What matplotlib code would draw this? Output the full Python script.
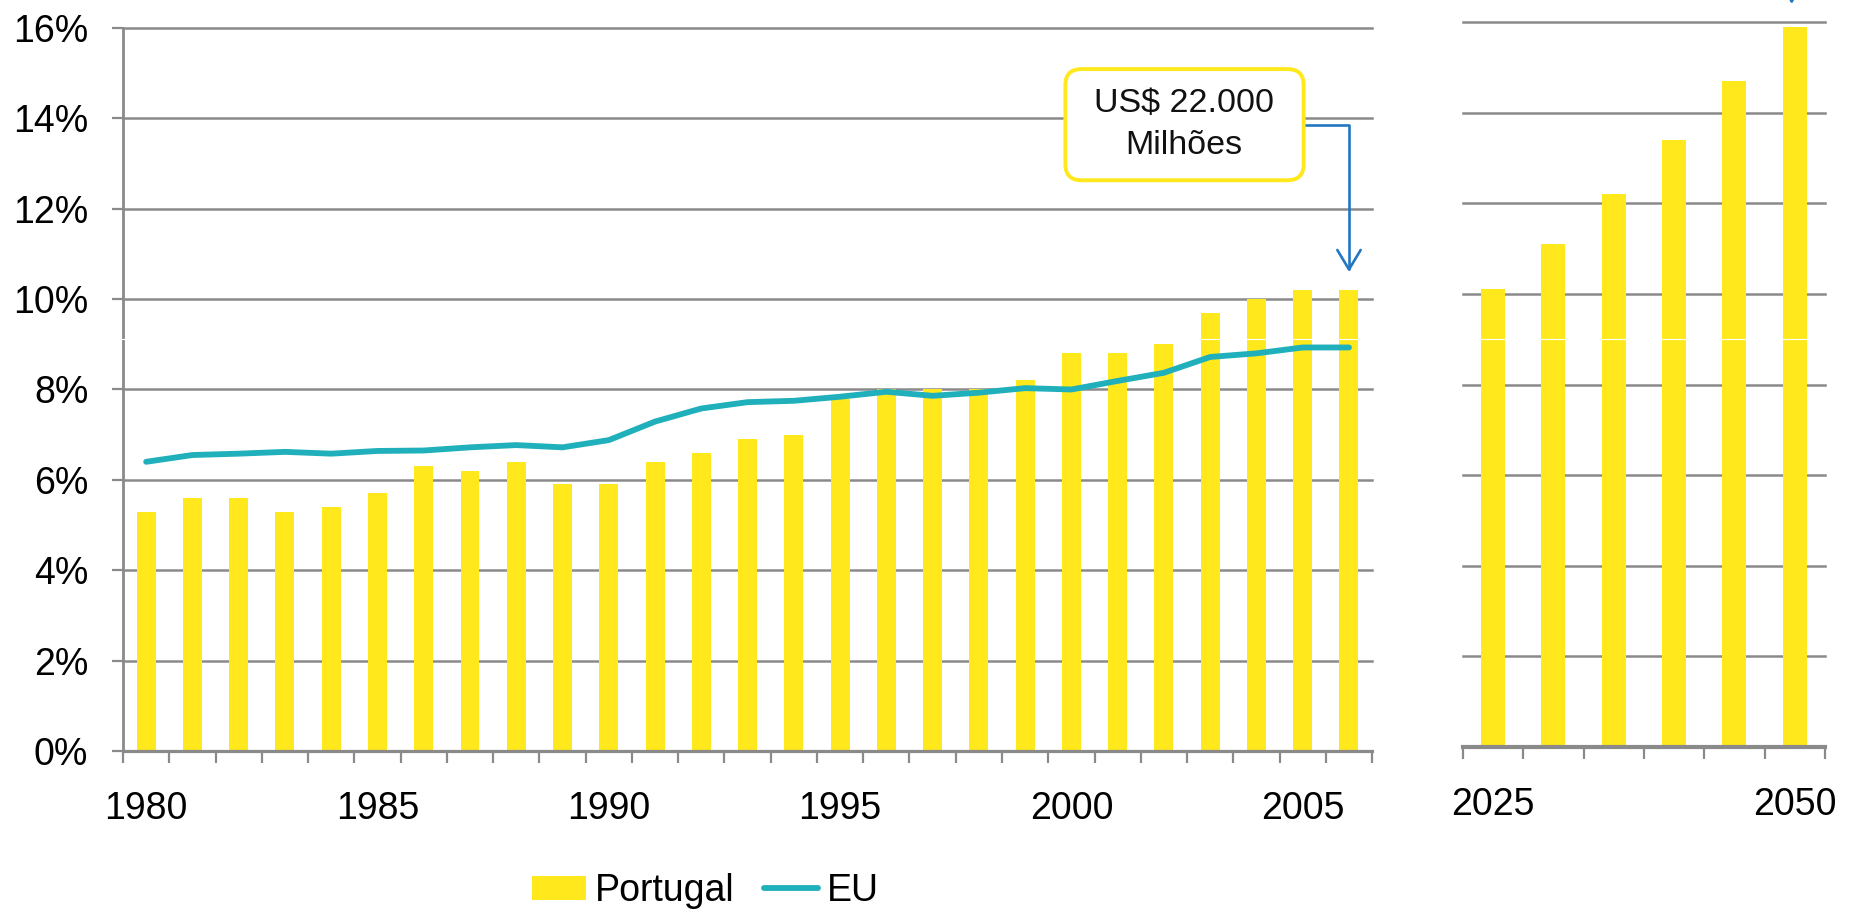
import matplotlib
matplotlib.use("Agg")
import matplotlib.pyplot as plt
from matplotlib.patches import FancyBboxPatch
from matplotlib.lines import Line2D

plt.rcParams['font.family'] = ['Liberation Sans', 'DejaVu Sans']

# historical series
years = list(range(1980, 2007))
portugal = [5.3, 5.6, 5.6, 5.3, 5.4, 5.7, 6.3, 6.2, 6.4, 5.9, 5.9, 6.4, 6.6, 6.9,
            7.0, 7.8, 8.0, 8.0, 8.0, 8.2, 8.8, 8.8, 9.0, 9.7, 10.0, 10.2, 10.2]
eu = [6.4, 6.55, 6.58, 6.62, 6.58, 6.64, 6.65, 6.72, 6.77, 6.72, 6.88, 7.29, 7.58,
      7.72, 7.75, 7.84, 7.95, 7.86, 7.93, 8.03, 8.0, 8.19, 8.37, 8.72, 8.8, 8.93, 8.93]

# projection
proj_years = [2025, 2030, 2035, 2040, 2045, 2050]
proj_values = [10.1, 11.1, 12.2, 13.4, 14.7, 15.9]
proj_labels = {2025: '2025', 2050: '2050'}

yticks = [0, 2, 4, 6, 8, 10, 12, 14, 16]
note = 'US$ 22.000\nMilhões'

YELLOW = '#ffe81c'
TEAL = '#1fb0bb'
BLUE = '#2277c2'
GRAY = '#8a8a8a'
FS = 27

fig = plt.figure(figsize=(18.61, 9.11), dpi=100)
ax = fig.add_axes([0.0661, 0.1756, 0.6712, 0.7937])
ax2 = fig.add_axes([0.7861, 0.18, 0.1945, 0.7958])

for a in (ax, ax2):
    a.set_ylim(0, 16)
    a.set_yticks(yticks)
    a.grid(axis='y', color=GRAY, lw=1.8)
    a.set_axisbelow(True)
    for gl in a.get_ygridlines():
        gl.set_clip_on(False)
    for s in ('top', 'right'):
        a.spines[s].set_visible(False)
    a.tick_params(axis='x', which='major', length=0, labelsize=FS, pad=29)
    a.tick_params(axis='x', which='minor', length=8.6, width=1.6, color=GRAY, direction='out')

# left panel
x = list(range(len(years)))
bars = ax.bar(x, portugal, width=0.41, color=YELLOW, label='Portugal', zorder=2)
line, = ax.plot(x, eu, color=TEAL, lw=4.2, solid_capstyle='round', solid_joinstyle='round',
                label='EU', zorder=3)
ax.set_xlim(-0.5, len(years) - 0.5)
ax.set_xticks([i for i, y in enumerate(years) if y % 5 == 0])
ax.set_xticklabels([str(y) for y in years if y % 5 == 0])
ax.set_xticks([i - 0.5 for i in range(len(years) + 1)], minor=True)
ax.set_yticklabels([f'{v}%' for v in yticks])
ax.tick_params(axis='y', length=8, width=1.6, color=GRAY, labelsize=FS, pad=17)
ax.spines['left'].set_color(GRAY)
ax.spines['left'].set_linewidth(2.0)
ax.spines['bottom'].set_color(GRAY)
ax.spines['bottom'].set_linewidth(2.3)

# callout box + arrow
box = FancyBboxPatch((19.87, 12.63), 5.15, 2.46, boxstyle='round,pad=0,rounding_size=0.35',
                     facecolor='white', edgecolor=YELLOW, lw=2.8, zorder=5)
ax.add_patch(box)
ax.text(22.44, 13.86, note, ha='center', va='center', fontsize=24.5, linespacing=1.45,
        color='#111111', zorder=6)
arrow_style = '->,head_length=0.7,head_width=0.42'
ax.annotate('', xy=(26, 10.6), xytext=(25.02, 13.86),
            arrowprops=dict(arrowstyle=arrow_style, mutation_scale=20,
                            connectionstyle='angle,angleA=0,angleB=90,rad=0',
                            color=BLUE, lw=1.9, shrinkA=0, shrinkB=0),
            annotation_clip=False, zorder=4)

# right panel
x2 = list(range(len(proj_years)))
ax2.bar(x2, proj_values, width=0.4, color=YELLOW, zorder=2)
ax2.set_xlim(-0.5, len(proj_years) - 0.5)
ax2.set_xticks([i for i, y in enumerate(proj_years) if y in proj_labels])
ax2.set_xticklabels([proj_labels[y] for y in proj_years if y in proj_labels])
ax2.set_xticks([i - 0.5 for i in range(len(proj_years) + 1)], minor=True)
ax2.tick_params(axis='y', length=0, labelleft=False)
ax2.spines['left'].set_visible(False)
ax2.spines['bottom'].set_color(GRAY)
ax2.spines['bottom'].set_linewidth(3.0)
ax2.annotate('', xy=(4.95, 16.4), xytext=(4.95, 18.5),
             arrowprops=dict(arrowstyle=arrow_style, mutation_scale=20,
                             color=BLUE, lw=1.9, shrinkA=0, shrinkB=0),
             annotation_clip=False)

fig.legend([bars, line], ['Portugal', 'EU'], loc='center', bbox_to_anchor=(0.379, 0.022),
           ncol=2, frameon=False, fontsize=FS, handlelength=1.45, handleheight=0.6,
           handletextpad=0.24, columnspacing=0.77)

# thin white seam across the picture
fig.add_artist(Line2D([0, 1], [0.628, 0.628], transform=fig.transFigure, color='white',
                      lw=0.8, zorder=10))

fig.savefig('out.png', dpi=100)
